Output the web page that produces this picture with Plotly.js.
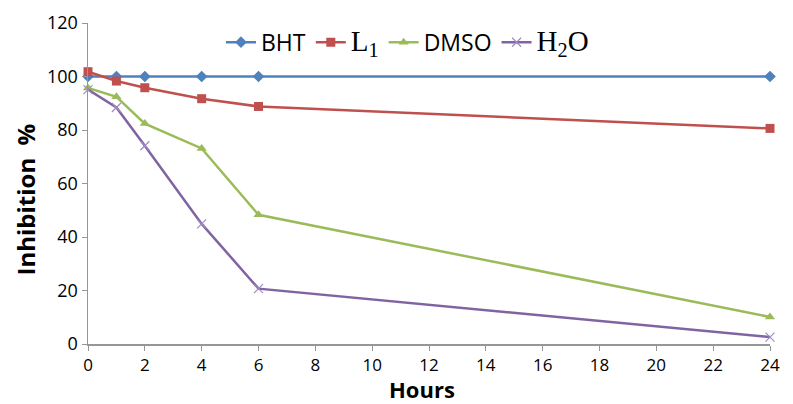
<!DOCTYPE html>
<html>
<head>
<meta charset="utf-8">
<script src="https://cdn.plot.ly/plotly-3.0.1.min.js"></script>
<style>html,body{margin:0;padding:0;background:#fff;}#chart{width:793px;height:404px;}</style>
</head>
<body>
<div id="chart"></div>
<script>
const hours = [0, 1, 2, 4, 6, 24];
const bht = [100, 100, 100, 100, 100, 100];
const l1 = [101.8, 98.3, 95.8, 91.7, 88.8, 80.6];
const dmso = [95.7, 92.4, 82.4, 73.1, 48.3, 10.1];
const h2o = [95.1, 88.4, 74.1, 44.9, 20.7, 2.6];
const xTicks = [0, 2, 4, 6, 8, 10, 12, 14, 16, 18, 20, 22, 24];
const yTicks = [0, 20, 40, 60, 80, 100, 120];

const serif = "'Liberation Serif', 'Times New Roman', serif";
const traces = [
  {x: hours, y: bht, name: 'BHT', mode: 'lines+markers', cliponaxis: false,
   line: {color: '#4F81BD', width: 2.5}, marker: {symbol: 'diamond', size: 9, color: '#4F81BD'}},
  {x: hours, y: l1, name: '<span style="font-family:' + serif + ';font-size:29px">L<sub>1</sub></span>', mode: 'lines+markers', cliponaxis: false,
   line: {color: '#C0504D', width: 2.5}, marker: {symbol: 'square', size: 9, color: '#C0504D'}},
  {x: hours, y: dmso, name: 'DMSO', mode: 'lines+markers', cliponaxis: false,
   line: {color: '#9BBB59', width: 2.5}, marker: {symbol: 'triangle-up', size: 9, color: '#9BBB59'}},
  {x: hours, y: h2o, name: '<span style="font-family:' + serif + ';font-size:29px">H<sub>2</sub>O</span>', mode: 'lines+markers', cliponaxis: false,
   line: {color: '#8064A2', width: 2.5}, marker: {symbol: 'x-thin', size: 9, color: '#A08CC0', line: {color: '#A08CC0', width: 1.2}}}
];

const layout = {
  width: 793, height: 404,
  margin: {l: 88, r: 23, t: 23, b: 60},
  paper_bgcolor: '#fff', plot_bgcolor: '#fff',
  font: {family: "'Open Sans', sans-serif", color: '#000', size: 18},
  showlegend: true,
  legend: {orientation: 'h', x: 0.195, xanchor: 'left', y: 0.94, yanchor: 'middle',
           font: {size: 23, color: '#000'}, bgcolor: 'rgba(0,0,0,0)', itemwidth: 30, tracegroupgap: 0},
  xaxis: {range: [0, 24], tickvals: xTicks, ticktext: xTicks.map(String), showgrid: false, zeroline: false,
          showline: true, linecolor: '#969696', linewidth: 1.5, ticks: 'outside', ticklen: 5, tickcolor: '#969696',
          tickfont: {size: 17}},
  yaxis: {range: [0, 120], tickvals: yTicks, ticktext: yTicks.map(String), showgrid: false, zeroline: false,
          showline: true, linecolor: '#969696', linewidth: 1.5, ticks: 'outside', ticklen: 5, tickcolor: '#969696',
          tickfont: {size: 18}},
  annotations: [
    {text: '<b>Inhibition  %</b>', textangle: -90, xref: 'paper', yref: 'paper',
     x: 0, y: 0.45, xanchor: 'center', yanchor: 'middle', xshift: -62, showarrow: false,
     font: {size: 24, color: '#000'}},
    {text: '<b>Hours</b>', xref: 'paper', yref: 'paper',
     x: 0.49, y: 0, xanchor: 'center', yanchor: 'middle', yshift: -45, showarrow: false, borderpad: 0,
     font: {size: 22, color: '#000'}}
  ]
};

Plotly.newPlot('chart', traces, layout, {displayModeBar: false, staticPlot: true});
</script>
</body>
</html>
